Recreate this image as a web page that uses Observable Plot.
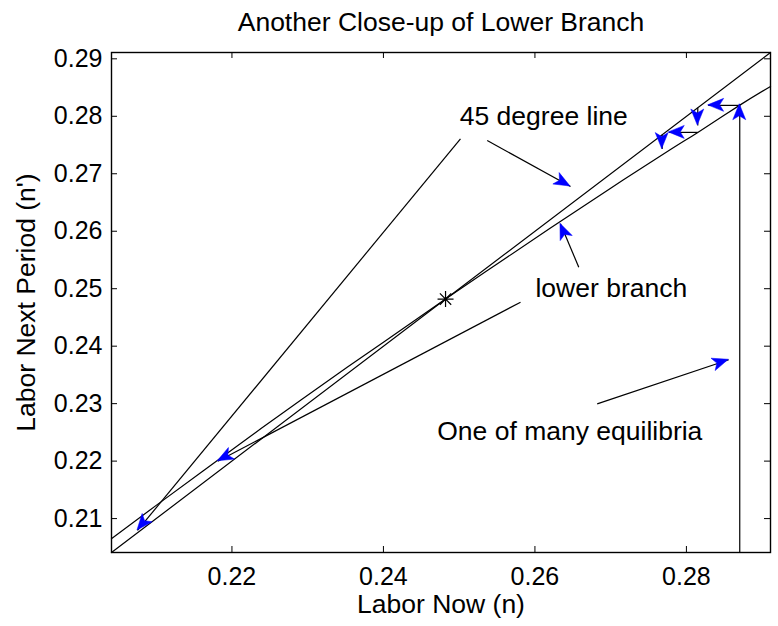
<!DOCTYPE html>
<html>
<head>
<meta charset="utf-8">
<script src="https://cdn.jsdelivr.net/npm/d3@7"></script>
<script src="https://cdn.jsdelivr.net/npm/@observablehq/plot@0.6"></script>
<style>
  html, body { margin: 0; padding: 0; background: #fff; }
</style>
</head>
<body>
<div id="chart"></div>
<script>
// ---- data ----
const titleText = "Another Close-up of Lower Branch";
const xLabel = "Labor Now (n)";
const yLabel = "Labor Next Period (n')";
const domainN = [0.2041, 0.2911];
const xTicks = [0.22, 0.24, 0.26, 0.28];
const yTicks = [0.21, 0.22, 0.23, 0.24, 0.25, 0.26, 0.27, 0.28, 0.29];

// 45 degree line
const line45N = [0.2041, 0.2911];
const line45Next = [0.2041, 0.2911];

// lower branch
const lowerN    = [0.2041, 0.2100, 0.2160, 0.2220, 0.2280, 0.2340, 0.2400, 0.2482, 0.2550, 0.2620, 0.2700, 0.2780, 0.2815, 0.2870, 0.2911];
const lowerNext = [0.2065, 0.2123, 0.2181, 0.2239, 0.2296, 0.2352, 0.2407, 0.2482, 0.2543, 0.2605, 0.2675, 0.2743, 0.2772, 0.2819, 0.2852];

// steady state marker
const steadyN = [0.2482];
const steadyNext = [0.2482];

// arrows (tail -> tip): cobweb arrows then annotation arrows
const arrowX1 = [0.28704, 0.28704, 0.2815, 0.2815, 0.2768, 0.25017, 0.2537, 0.26579, 0.2581, 0.26822];
const arrowY1 = [0.2041, 0.2819, 0.2815, 0.2772, 0.2768, 0.27608, 0.27579, 0.25374, 0.24765, 0.22997];
const arrowX2 = [0.28704, 0.28287, 0.2815, 0.27767, 0.2768, 0.20753, 0.2647, 0.26337, 0.21813, 0.28559];
const arrowY2 = [0.2821, 0.2819, 0.2784, 0.2772, 0.2743, 0.20793, 0.26778, 0.26129, 0.21998, 0.23763];

// annotation texts (left anchored)
const noteText = ["45 degree line", "lower branch", "One of many equilibria"];
const noteN    = [0.25008, 0.26007, 0.2471];
const noteNext = [0.27988, 0.24995, 0.22519];

// ---- rendering ----
const FONT = "Liberation Sans, Arial, Helvetica, sans-serif";
const FS_TICK = 25;
const FS_TEXT = 26.5;

const asterisk = {
  draw(context, size) {
    const r = Math.sqrt(size / Math.PI);
    const d = r * Math.SQRT1_2;
    context.moveTo(-r, 0); context.lineTo(r, 0);
    context.moveTo(0, -r); context.lineTo(0, r);
    context.moveTo(-d, -d); context.lineTo(d, d);
    context.moveTo(-d, d); context.lineTo(d, -d);
  }
};

// filled notched arrow heads placed with Plot's own scales
const arrowHeads = (index, scales) => {
  const g = d3.create("svg:g");
  const L = 16, W = 6.5, N = 4;
  for (let i = 0; i < arrowX1.length; i++) {
    const x1 = scales.x(arrowX1[i]), y1 = scales.y(arrowY1[i]);
    const x2 = scales.x(arrowX2[i]), y2 = scales.y(arrowY2[i]);
    const ang = Math.atan2(y2 - y1, x2 - x1) * 180 / Math.PI;
    g.append("path")
      .attr("d", `M0,0L${-L},${-W}L${-L + N},0L${-L},${W}Z`)
      .attr("fill", "#0000ff")
      .attr("stroke", "#0000ff")
      .attr("stroke-width", 0.5)
      .attr("transform", `translate(${x2},${y2}) rotate(${ang})`);
  }
  return g.node();
};

const W = 778, H = 626;
const mL = 111, mR = 8, mT = 52, mB = 74;
const fw = W - mL - mR, fh = H - mT - mB;

const chart = Plot.plot({
  width: W,
  height: H,
  marginLeft: mL,
  marginRight: mR,
  marginTop: mT,
  marginBottom: mB,
  style: { fontFamily: FONT, fontSize: FS_TICK + "px", background: "#fff", color: "#000" },
  x: { domain: domainN, ticks: xTicks, tickFormat: d => d.toFixed(2), tickSize: 0, tickPadding: 15, label: null },
  y: { domain: domainN, ticks: yTicks, tickFormat: d => d.toFixed(2), tickSize: 0, tickPadding: 9, label: null },
  marks: [
    // curves
    Plot.line(line45N, { x: line45N, y: line45Next, stroke: "#000", strokeWidth: 1.2 }),
    Plot.line(lowerN, { x: lowerN, y: lowerNext, stroke: "#000", strokeWidth: 1.2, curve: "natural" }),
    // arrow shafts
    Plot.link(arrowX1, { x1: arrowX1, y1: arrowY1, x2: arrowX2, y2: arrowY2, stroke: "#000", strokeWidth: 1.2 }),
    arrowHeads,
    // steady state
    Plot.dot(steadyN, { x: steadyN, y: steadyNext, symbol: asterisk, r: 8, stroke: "#000", strokeWidth: 1.2, fill: "none" }),
    // annotations
    Plot.text(noteText, { x: noteN, y: noteNext, text: d => d, textAnchor: "start", lineAnchor: "middle", fontSize: FS_TEXT, fill: "#000" }),
    // inward ticks (bottom, top, left, right)
    Plot.tickX(xTicks, { x: d => d, insetTop: fh - 6, stroke: "#000", strokeWidth: 1 }),
    Plot.tickX(xTicks, { x: d => d, insetBottom: fh - 6, stroke: "#000", strokeWidth: 1 }),
    Plot.tickY(yTicks, { y: d => d, insetRight: fw - 6, stroke: "#000", strokeWidth: 1 }),
    Plot.tickY(yTicks, { y: d => d, insetLeft: fw - 6, stroke: "#000", strokeWidth: 1 }),
    Plot.frame({ stroke: "#000", strokeWidth: 1.4 }),
    // title and axis labels
    Plot.text([titleText], { frameAnchor: "top", text: d => d, dy: -30, textAnchor: "middle", lineAnchor: "middle", fontSize: FS_TEXT, fill: "#000" }),
    Plot.text([xLabel], { frameAnchor: "bottom", text: d => d, dy: 52, textAnchor: "middle", lineAnchor: "middle", fontSize: FS_TEXT, fill: "#000" }),
    Plot.text([yLabel], { frameAnchor: "left", text: d => d, dx: -85, rotate: -90, textAnchor: "middle", lineAnchor: "middle", fontSize: FS_TEXT, fill: "#000" })
  ]
});

document.getElementById("chart").appendChild(chart);
</script>
</body>
</html>
